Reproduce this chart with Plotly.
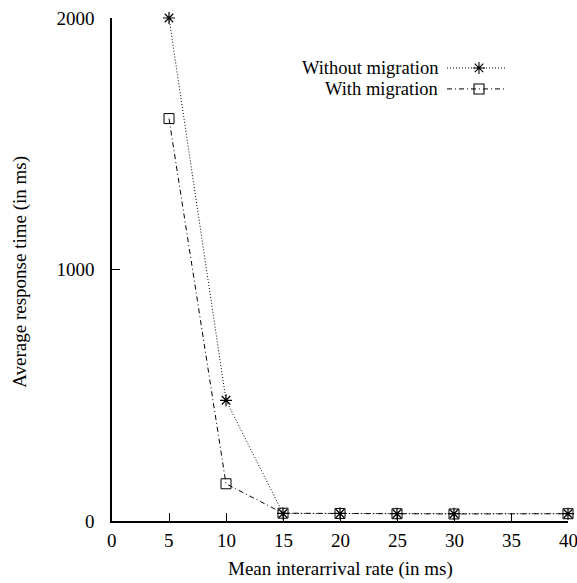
import plotly.graph_objects as go

# Data
rates = [5, 10, 15, 20, 25, 30, 40]
without_migration = [2000, 480, 30, 30, 29, 29, 29]
with_migration = [1600, 148, 31, 30, 29, 28, 29]
x_ticks = [0, 5, 10, 15, 20, 25, 30, 35, 40]
y_ticks = [0, 1000, 2000]
series_names = ["Without migration", "With migration"]
x_title = "Mean interarrival rate (in ms)"
y_title = "Average response time (in ms)"

W, H = 577, 583
L, R, T, B = 112, 9, 18, 61.5
pw, ph = W - L - R, H - T - B

FONT = dict(family="Liberation Serif, Times New Roman, serif", size=19, color="black")
LFONT = dict(FONT, size=18.5)
DOT = "1px,2px"
DASHDOT = "5px,3px,1px,3px"

def px2paper(xp, yp):
    return (xp - L) / pw, (H - B - yp) / ph

fig = go.Figure()
fig.add_trace(go.Scatter(x=rates, y=without_migration, mode="lines+markers",
                         line=dict(color="black", width=1, dash=DOT),
                         marker=dict(symbol="asterisk-open", size=10, color="black",
                                     line=dict(color="black", width=1.2)),
                         cliponaxis=False, showlegend=False))
fig.add_trace(go.Scatter(x=rates, y=with_migration, mode="lines+markers",
                         line=dict(color="black", width=1, dash=DASHDOT),
                         marker=dict(symbol="square-open", size=10, color="black",
                                     line=dict(color="black", width=1)),
                         cliponaxis=False, showlegend=False))

# Manual gnuplot-style legend (text left, sample right)
legend_rows = [(68, DOT, "asterisk-open", 10), (89, DASHDOT, "square-open", 10)]
x_text_right = 439
x_line0, x_line1, x_mark = 447, 506, 479
for (yp, dash, sym, sz), name in zip(legend_rows, series_names):
    xa, ya = px2paper(x_line0, yp)
    xb, _ = px2paper(x_line1, yp)
    xm, _ = px2paper(x_mark, yp)
    xt, _ = px2paper(x_text_right, yp)
    fig.add_trace(go.Scatter(x=[xa, xb], y=[ya, ya], mode="lines", xaxis="x2", yaxis="y2",
                             line=dict(color="black", width=1, dash=dash),
                             showlegend=False, hoverinfo="skip"))
    fig.add_trace(go.Scatter(x=[xm], y=[ya], mode="markers", xaxis="x2", yaxis="y2",
                             marker=dict(symbol=sym, size=sz, color="black",
                                         line=dict(color="black", width=1.1)),
                             showlegend=False, hoverinfo="skip", cliponaxis=False))
    fig.add_annotation(x=xt, y=ya, xref="paper", yref="paper", text=name,
                       showarrow=False, xanchor="right", yanchor="middle", font=LFONT,
                       borderpad=0)

# X tick labels (drawn as annotations so the last one is not dropped at the edge)
_, ytl = px2paper(0, 541)
for v in x_ticks:
    fig.add_annotation(x=v, y=ytl, xref="x", yref="paper", text=str(v),
                       showarrow=False, xanchor="center", yanchor="middle", font=FONT,
                       borderpad=0)

# Axis titles
_, xty = px2paper(340, 570)
fig.add_annotation(x=0.5, y=xty, xref="paper", yref="paper", text=x_title,
                   showarrow=False, xanchor="center", yanchor="middle", font=FONT,
                   borderpad=0)
ytx, yty = px2paper(20, 272)
fig.add_annotation(x=ytx, y=yty, xref="paper", yref="paper", text=y_title, textangle=-90,
                   showarrow=False, xanchor="center", yanchor="middle", font=FONT)

fig.update_layout(
    width=W, height=H,
    margin=dict(l=L, r=R, t=T, b=B),
    paper_bgcolor="white", plot_bgcolor="white",
    font=FONT,
    xaxis=dict(range=[0, 40], tickvals=x_ticks, ticks="inside", ticklen=8,
               tickcolor="black", showline=True, linecolor="black", linewidth=1.5,
               showgrid=False, zeroline=False, showticklabels=False),
    yaxis=dict(range=[0, 2000], tickvals=y_ticks, ticks="inside", ticklen=8,
               tickcolor="black", showline=True, linecolor="black", linewidth=1.5,
               showgrid=False, zeroline=False, tickfont=FONT, ticklabelstandoff=12),
    xaxis2=dict(range=[0, 1], overlaying="x", visible=False),
    yaxis2=dict(range=[0, 1], overlaying="y", visible=False),
)

fig.write_html("out.html")
